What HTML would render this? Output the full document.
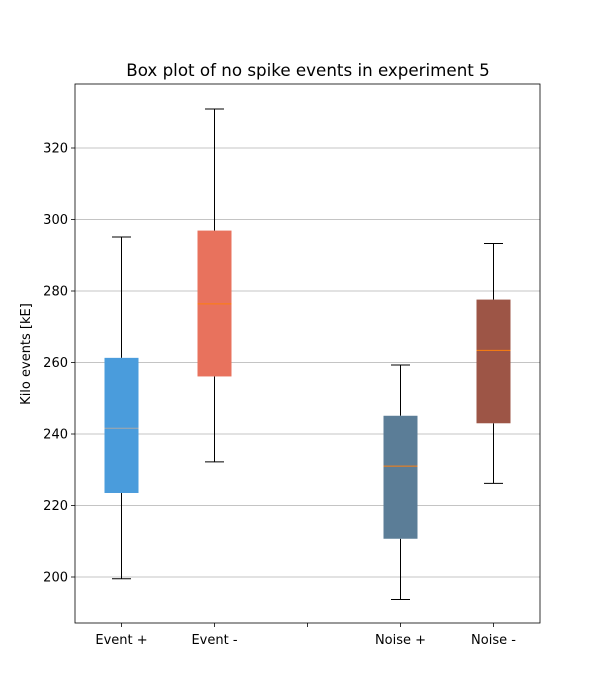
<!DOCTYPE html>
<html><head><meta charset="utf-8"><style>body{margin:0;background:#fff}svg{display:block;font-family:"DejaVu Sans","Liberation Sans",sans-serif}</style></head>
<body>
<svg id="chart" width="600" height="700"></svg>
<script>
const categories = ["Event +", "Event -", "", "Noise +", "Noise -"];
const whiskerLow = [199.5, 232.2, null, 193.7, 226.2];
const q1 = [223.5, 256.1, null, 210.7, 243.0];
const medians = [241.6, 276.4, null, 231.0, 263.4];
const q3 = [261.3, 296.9, null, 245.1, 277.6];
const whiskerHigh = [295.1, 330.9, null, 259.3, 293.3];
const colors = ["#4a9cdc", "#e8725d", null, "#5b7d97", "#9d5546"];
const medianColors = ["#a8a8a8", "#ff7f0e", null, "#ff7f0e", "#ff7f0e"];
const yTicks = [200, 220, 240, 260, 280, 300, 320];

const NS = "http://www.w3.org/2000/svg";
const svg = document.getElementById("chart");
const L = 75, R = 540, T = 84, B = 623;
const y = v => 577 - (v - 200) * 3.575;
const x = i => L + (R - L) / categories.length * (i + 0.5);
function el(tag, attrs, parent) {
  const e = document.createElementNS(NS, tag);
  for (const k in attrs) e.setAttribute(k, attrs[k]);
  (parent || svg).appendChild(e);
  return e;
}
let t = el("text", {x: 308, y: 76, "text-anchor": "middle", "font-size": 16.7, fill: "#000"});
t.textContent = "Box plot of no spike events in experiment 5";


yTicks.forEach(v => {
  const g = el("line", {x1: L, x2: R, y1: y(v), y2: y(v), stroke: "#b0b0b0", "stroke-width": 0.8});
  
  
  el("line", {x1: L - 4, x2: L, y1: y(v), y2: y(v), stroke: "#000", "stroke-width": 0.8});
  const lb = el("text", {x: L - 7, y: y(v) + 4.5, "text-anchor": "end", "font-size": 13});
  lb.textContent = v;
  
  
});
const yl = el("text", {transform: "translate(30,354) rotate(-90)", "text-anchor": "middle", "font-size": 13});
yl.textContent = "Kilo events [kE]";


categories.forEach((c, i) => {
  const cx = x(i);
  el("line", {x1: cx, x2: cx, y1: B, y2: B + 4, stroke: "#000", "stroke-width": 0.8});
  const lb = el("text", {x: cx, y: B + 21, "text-anchor": "middle", "font-size": 13});
  lb.textContent = c;
  
  
  if (q1[i] == null) return;
  const g = el("g", {});
  
  
  el("line", {x1: cx, x2: cx, y1: y(whiskerLow[i]), y2: y(q1[i]), stroke: "#000"}, g);
  el("line", {x1: cx, x2: cx, y1: y(q3[i]), y2: y(whiskerHigh[i]), stroke: "#000"}, g);
  el("line", {x1: cx - 9.5, x2: cx + 9.5, y1: y(whiskerLow[i]), y2: y(whiskerLow[i]), stroke: "#000"}, g);
  el("line", {x1: cx - 9.5, x2: cx + 9.5, y1: y(whiskerHigh[i]), y2: y(whiskerHigh[i]), stroke: "#000"}, g);
  el("rect", {x: cx - 17, y: y(q3[i]), width: 34, height: y(q1[i]) - y(q3[i]), fill: colors[i]}, g);
  el("line", {x1: cx - 17, x2: cx + 17, y1: y(medians[i]), y2: y(medians[i]), stroke: medianColors[i]}, g);
});
const frame = el("rect", {x: L, y: T, width: R - L, height: B - T, fill: "none", stroke: "#000", "stroke-width": 0.8});


</script>
</body></html>
